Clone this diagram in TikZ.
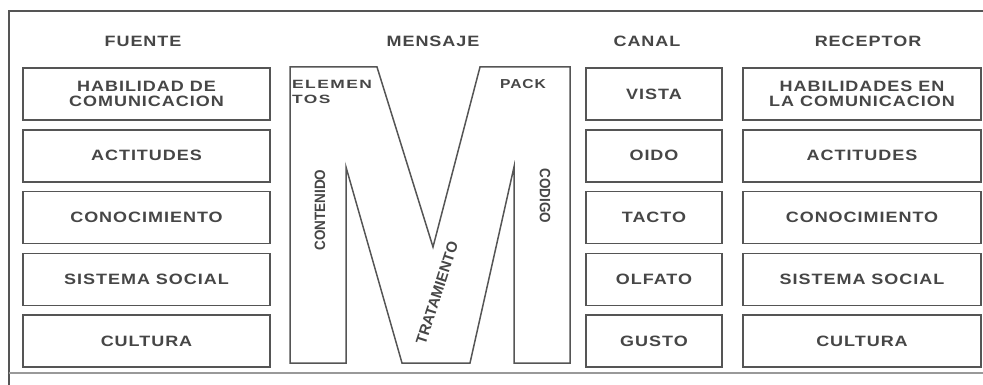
\documentclass[tikz,border=0pt]{standalone}
\usepackage{fontspec}
\setmainfont{Liberation Sans}
\newfontfamily\ancha{Liberation Sans}[FakeStretch=1.2, LetterSpace=6.5]
\newfontfamily\muyancha{Liberation Sans}[FakeStretch=1.45, LetterSpace=12]
\newfontfamily\estrecha{Liberation Sans}[FakeStretch=0.9]
\usetikzlibrary{positioning}
\definecolor{tinta}{HTML}{464646}
\definecolor{linea}{HTML}{555555}

\begin{document}
\begin{tikzpicture}[x=1pt, y=-1pt, node distance=8.3pt,
    caja/.style={rectangle, draw=linea, line width=1.5pt, minimum height=52pt, inner sep=0pt, align=center, text=tinta, font=\ancha\bfseries\fontsize{15}{15}\selectfont},
    fuente/.style={caja, minimum width=247pt},
    canal/.style={caja, minimum width=136pt},
    receptor/.style={caja, minimum width=238pt},
    titulo/.style={text=tinta, inner sep=0pt, font=\ancha\bfseries\fontsize{15}{15}\selectfont},
    etiqueta/.style={text=tinta, inner sep=0pt, align=left, font=\estrecha\bfseries\fontsize{15}{15}\selectfont}]
    \useasboundingbox (0,0) rectangle (983,385);
    % Marco
    \draw[linea, line width=1.3pt] (9,385) -- (9,11) -- (990,11);
    \draw[linea!60, line width=1.2pt] (9,373) -- (990,373);
    % Titulos
    \node[titulo] (tf) at (143,41) {FUENTE};
    \node[titulo] (tm) at (433,41) {MENSAJE};
    \node[titulo] (tc) at (647,41) {CANAL};
    \node[titulo] (tr) at (868,41) {RECEPTOR};
    % Fuente
    \node[fuente] (f1) at (146.5,94) {HABILIDAD DE\\COMUNICACION};
    \node[fuente, below=of f1] (f2) {ACTITUDES};
    \node[fuente, below=of f2] (f3) {CONOCIMIENTO};
    \node[fuente, below=of f3] (f4) {SISTEMA SOCIAL};
    \node[fuente, below=of f4] (f5) {CULTURA};
    % Canal
    \node[canal] (c1) at (654,94) {VISTA};
    \node[canal, below=of c1] (c2) {OIDO};
    \node[canal, below=of c2] (c3) {TACTO};
    \node[canal, below=of c3] (c4) {OLFATO};
    \node[canal, below=of c4] (c5) {GUSTO};
    % Receptor
    \node[receptor] (r1) at (862,94) {HABILIDADES EN\\LA COMUNICACION};
    \node[receptor, below=of r1] (r2) {ACTITUDES};
    \node[receptor, below=of r2] (r3) {CONOCIMIENTO};
    \node[receptor, below=of r3] (r4) {SISTEMA SOCIAL};
    \node[receptor, below=of r4] (r5) {CULTURA};
    % Mensaje (la M)
    \draw[linea, line width=1.5pt, line join=miter]
        (290,67) -- (377,67) -- (433,247) -- (480,67) -- (570,67) -- (570,363)
        -- (514,363) -- (514,167) -- (470,363) -- (402,363) -- (346,167)
        -- (346,363) -- (290,363) -- cycle;
    \node[etiqueta, anchor=north west, font=\muyancha\bfseries\fontsize{12}{15.5}\selectfont] (elem) at (292,80) {ELEMEN\\TOS};
    \node[etiqueta, font=\ancha\bfseries\fontsize{13}{15}\selectfont] (pack) at (523,84) {PACK};
    \node[etiqueta, rotate=90] (cont) at (320,210) {CONTENIDO};
    \node[etiqueta, rotate=-90] (cod) at (545,196) {CODIGO};
    \node[etiqueta, rotate=72, font=\bfseries\fontsize{15}{15}\selectfont] (trat) at (437,293) {TRATAMIENTO};
\end{tikzpicture}
\end{document}
